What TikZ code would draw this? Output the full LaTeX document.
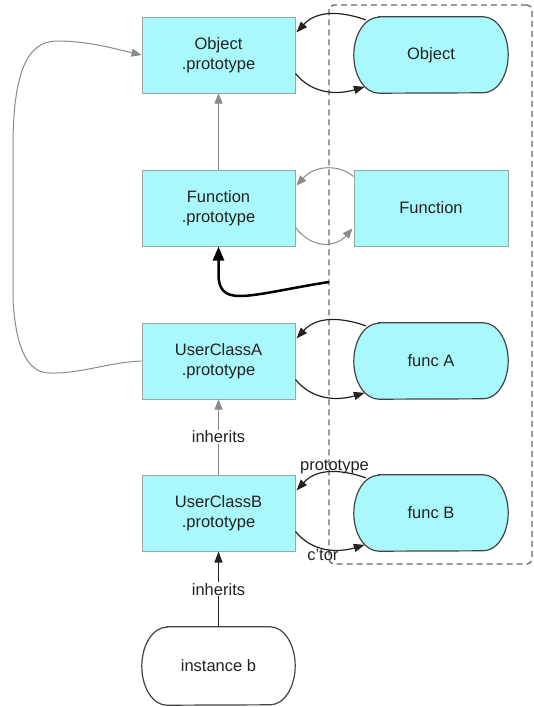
\documentclass[tikz,border=0pt]{standalone}
\usepackage{fontspec}
\setmainfont{Liberation Sans}
\usetikzlibrary{arrows.meta,calc}
\pgfdeclarelayer{bg}
\pgfsetlayers{bg,main}
\definecolor{boxfill}{HTML}{A9F9FC}
\definecolor{boxline}{HTML}{9AA6A6}
\definecolor{grayline}{HTML}{8A8A8A}
\definecolor{darkline}{HTML}{222222}
\definecolor{dashcol}{HTML}{666666}
\definecolor{txt}{HTML}{222222}
\newcommand{\stadiumshape}[3]{%
  \begin{pgfonlayer}{bg}
  \draw[line width=1.2pt, draw=darkline!85, fill=#2]
    ($(#1.north west)+(25,0)$) -- ($(#1.north east)+(-25,0)$)
    arc[start angle=90,end angle=-90,x radius=25pt,y radius=#3pt]
    -- ($(#1.south west)+(25,0)$)
    arc[start angle=270,end angle=90,x radius=25pt,y radius=#3pt] -- cycle;
  \end{pgfonlayer}}
\begin{document}
\begin{tikzpicture}[x=1pt,y=-1pt,
  every node/.style={font=\fontsize{16.5}{20}\selectfont, text=txt},
  protobox/.style={rectangle, draw=boxline, fill=boxfill, line width=1pt, minimum width=153pt, minimum height=76pt, align=center, inner sep=0pt},
  ctorbox/.style={rectangle, minimum width=154pt, minimum height=76pt, align=center, inner sep=0pt},
  grayarrow/.style={draw=grayline, line width=1pt, -{Triangle[length=10pt,width=8pt]}},
  blackarrow/.style={draw=darkline, line width=1.2pt, -{Triangle[length=11pt,width=8pt]}},
  thickarrow/.style={draw=black, line width=2.5pt, -{Triangle[length=14pt,width=11pt]}},
  lbl/.style={font=\fontsize{16.5}{20}\selectfont, inner sep=1pt},
  groupbox/.style={draw=dashcol, line width=1.3pt, dash pattern=on 6pt off 4pt, rounded corners=5pt, minimum width=203pt, minimum height=559pt, inner sep=0pt},
]
\useasboundingbox (0,0) rectangle (534,707);

% nodes
\node[protobox] (OP) at (218.5,55) {Object\\.prototype};
\node[protobox] (FP) at (218.5,208) {Function\\.prototype};
\node[protobox] (AP) at (218.5,361) {UserClassA\\.prototype};
\node[protobox] (BP) at (218.5,513) {UserClassB\\.prototype};
\node[ctorbox] (O) at (431,55) {Object};
\node[protobox, minimum width=154pt] (F) at (431,208) {Function};
\node[ctorbox] (FA) at (431,361) {func A};
\node[ctorbox] (FB) at (431,513) {func B};
\node[ctorbox, minimum width=153pt, minimum height=78pt] (IB) at (218.5,666) {instance b};
\stadiumshape{O}{boxfill}{38}
\stadiumshape{FA}{boxfill}{38}
\stadiumshape{FB}{boxfill}{38}
\stadiumshape{IB}{white}{39}

% group
\node[groupbox] (G) at (430.5,284.5) {};
\coordinate (thickstart) at (329,282);

% Object <-> Object.prototype
\draw[blackarrow] ($(O.north west)+(12,3)$) .. controls ($(O.north west)+(-14,-6)$) and ($(OP.north east)+(21,-6)$) .. ($(OP.north east)+(1,16)$);
\draw[blackarrow] ($(OP.north east)+(0,57)$) .. controls ($(OP.north east)+(17,78)$) and ($(O.north west)+(-16,78)$) .. ($(O.north west)+(11,70)$);

% Function <-> Function.prototype
\draw[grayarrow] ($(F.north west)+(0,7)$) .. controls ($(F.north west)+(-14,-5)$) and ($(FP.north east)+(20,-5)$) .. ($(FP.north east)+(1,16)$);
\draw[grayarrow] ($(FP.north east)+(0,58)$) .. controls ($(FP.north east)+(17,80)$) and ($(F.north west)+(-18,78)$) .. ($(F.north west)+(-1,59)$);

% func A <-> UserClassA.prototype
\draw[blackarrow] ($(FA.north west)+(12,3)$) .. controls ($(FA.north west)+(-14,-6)$) and ($(AP.north east)+(21,-6)$) .. ($(AP.north east)+(1,16)$);
\draw[blackarrow] ($(AP.north east)+(0,57)$) .. controls ($(AP.north east)+(17,78)$) and ($(FA.north west)+(-16,78)$) .. ($(FA.north west)+(11,70)$);

% func B <-> UserClassB.prototype
\draw[blackarrow] ($(FB.north west)+(12,3)$) .. controls ($(FB.north west)+(-14,-6)$) and ($(BP.north east)+(21,-6)$) .. node[lbl, above, pos=0.42, inner sep=0pt, yshift=-2pt] {prototype} ($(BP.north east)+(1,16)$);
\draw[blackarrow] ($(BP.north east)+(0,57)$) .. controls ($(BP.north east)+(17,78)$) and ($(FB.north west)+(-16,78)$) .. node[lbl, below, pos=0.45, inner sep=0.5pt] {c'tor} ($(FB.north west)+(11,70)$);

% vertical inheritance
\draw[grayarrow] (FP.north) -- (OP.south);
\draw[grayarrow] (BP.north) -- node[lbl, fill=white] {inherits} (AP.south);
\draw[blackarrow] (IB.north) -- node[lbl, fill=white] {inherits} (BP.south);

% long left curve
\draw[grayarrow] (AP.west) .. controls (110,362) and (80,374) .. (50,373) .. controls (28,373) and (16,350) .. (13,300) -- (13,140) .. controls (14,80) and (24,41) .. (57,41) .. controls (87,41) and (112,48) .. (OP.west);

% thick arrow
\draw[thickarrow] (thickstart) .. controls (290,288) and (258,296) .. (240,296) .. controls (224,296) and (218.5,289) .. (218.5,274) -- (FP.south);
\end{tikzpicture}
\end{document}
